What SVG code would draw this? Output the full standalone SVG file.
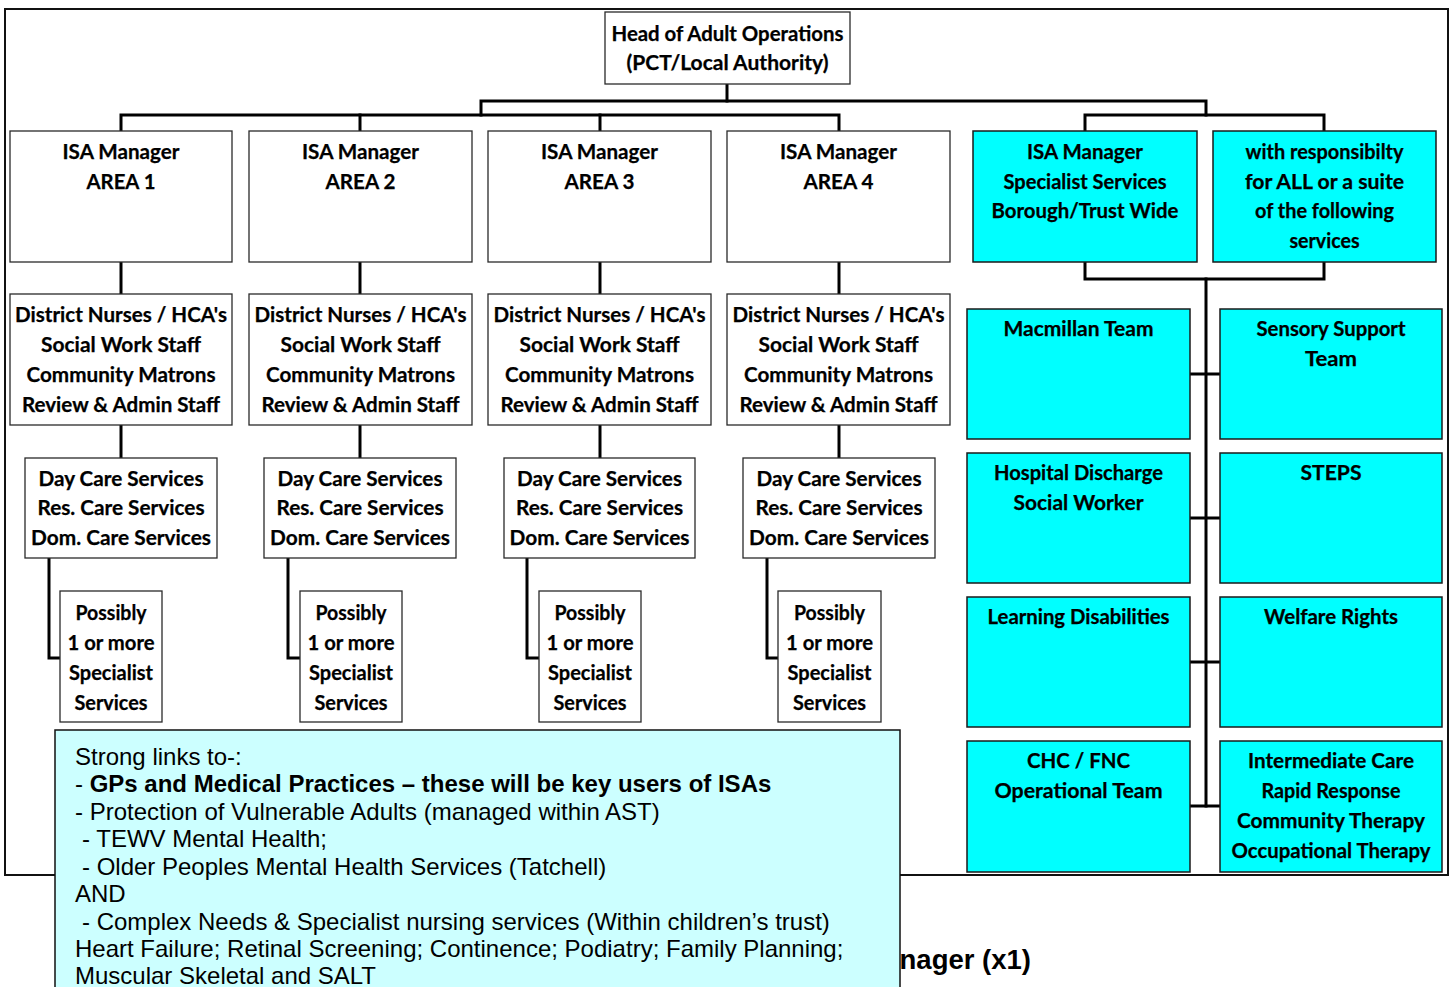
<svg xmlns="http://www.w3.org/2000/svg" width="1453" height="987" viewBox="0 0 1453 987">
  <style>
    .box { fill: #ffffff; stroke: #2a2a2a; stroke-width: 1.3; }
    .spec { fill: #00ffff; stroke: #1a1a1a; stroke-width: 1.5; }
    .lbl { font-family: Lato, "Open Sans", "DejaVu Sans", sans-serif; font-weight: bold; font-size: 20px; fill: #000; text-anchor: middle; stroke: #000; stroke-width: 0.25; }
    .conn { fill: none; stroke: #000; stroke-width: 3; stroke-linejoin: miter; stroke-linecap: square; }
    .frame { fill: none; stroke: #111; stroke-width: 2; }
    .note { fill: #ccffff; stroke: #111; stroke-width: 1.5; }
    .nt { font-family: "Liberation Sans", Arial, sans-serif; font-size: 24px; fill: #000; }
    .ntb { font-weight: bold; }
    .hdr { font-family: "Liberation Sans", Arial, sans-serif; font-size: 27.5px; font-weight: bold; fill: #000; }
  </style>

  <rect width="1453" height="987" fill="#ffffff"/>

  <!-- outer page frame -->
  <rect class="frame" x="5" y="9" width="1443" height="866"/>

  <!-- connectors -->
  <g id="connectors">
    <path class="conn" d="M727,84 V101"/>
    <path class="conn" d="M481,115 V101 H1206 V115"/>
    <path class="conn" d="M121,131 V115 H839 V131"/>
    <path class="conn" d="M360,115 V131"/>
    <path class="conn" d="M600,115 V131"/>
    <path class="conn" d="M1085,131 V115 H1324 V131"/>
    <path class="conn" d="M1085,262 V279 H1324 V262"/>
    <path class="conn" d="M1206,279 V806"/>
    <path class="conn" d="M1190,374 H1220"/>
    <path class="conn" d="M1190,518 H1220"/>
    <path class="conn" d="M1190,662 H1220"/>
    <path class="conn" d="M1190,806 H1220"/>
    <!-- area columns: manager -> staff -> services -> specialist -->
    <path class="conn" d="M121,262 V294"/>
    <path class="conn" d="M360,262 V294"/>
    <path class="conn" d="M600,262 V294"/>
    <path class="conn" d="M839,262 V294"/>
    <path class="conn" d="M121,425 V458"/>
    <path class="conn" d="M360,425 V458"/>
    <path class="conn" d="M600,425 V458"/>
    <path class="conn" d="M839,425 V458"/>
    <path class="conn" d="M49,558 V658 H60"/>
    <path class="conn" d="M288,558 V658 H300"/>
    <path class="conn" d="M527,558 V658 H539"/>
    <path class="conn" d="M767,558 V658 H778"/>
  </g>

  <!-- head -->
  <g id="head">
    <rect class="box" x="605" y="12" width="245" height="72"/>
    <text class="lbl" x="727.5" y="41" textLength="232" lengthAdjust="spacingAndGlyphs">Head of Adult Operations</text>
    <text class="lbl" x="727.5" y="70" textLength="202" lengthAdjust="spacingAndGlyphs">(PCT/Local Authority)</text>
  </g>

  <!-- area managers -->
  <g id="isa-area1">
    <rect class="box" x="10" y="131" width="222" height="131"/>
    <text class="lbl" x="121" y="159" textLength="117" lengthAdjust="spacingAndGlyphs">ISA Manager</text>
    <text class="lbl" x="121" y="189" textLength="69" lengthAdjust="spacingAndGlyphs">AREA 1</text>
  </g>
  <g id="isa-area2">
    <rect class="box" x="249" y="131" width="223" height="131"/>
    <text class="lbl" x="360.5" y="159" textLength="117" lengthAdjust="spacingAndGlyphs">ISA Manager</text>
    <text class="lbl" x="360.5" y="189" textLength="70" lengthAdjust="spacingAndGlyphs">AREA 2</text>
  </g>
  <g id="isa-area3">
    <rect class="box" x="488" y="131" width="223" height="131"/>
    <text class="lbl" x="599.5" y="159" textLength="117" lengthAdjust="spacingAndGlyphs">ISA Manager</text>
    <text class="lbl" x="599.5" y="189" textLength="70" lengthAdjust="spacingAndGlyphs">AREA 3</text>
  </g>
  <g id="isa-area4">
    <rect class="box" x="727" y="131" width="223" height="131"/>
    <text class="lbl" x="838.5" y="159" textLength="117" lengthAdjust="spacingAndGlyphs">ISA Manager</text>
    <text class="lbl" x="838.5" y="189" textLength="70" lengthAdjust="spacingAndGlyphs">AREA 4</text>
  </g>

  <!-- specialist manager -->
  <g id="isa-specialist">
    <rect class="spec" x="973" y="131" width="224" height="131"/>
    <text class="lbl" x="1085" y="159" textLength="116" lengthAdjust="spacingAndGlyphs">ISA Manager</text>
    <text class="lbl" x="1085" y="189" textLength="163" lengthAdjust="spacingAndGlyphs">Specialist Services</text>
    <text class="lbl" x="1085" y="218" textLength="187" lengthAdjust="spacingAndGlyphs">Borough/Trust Wide</text>
  </g>
  <g id="responsibility">
    <rect class="spec" x="1213" y="131" width="223" height="131"/>
    <text class="lbl" x="1324.5" y="159" textLength="158" lengthAdjust="spacingAndGlyphs">with responsibilty</text>
    <text class="lbl" x="1324.5" y="189" textLength="159" lengthAdjust="spacingAndGlyphs">for ALL or a suite</text>
    <text class="lbl" x="1324.5" y="218" textLength="139" lengthAdjust="spacingAndGlyphs">of the following</text>
    <text class="lbl" x="1324.5" y="248" textLength="70" lengthAdjust="spacingAndGlyphs">services</text>
  </g>

  <!-- area staff -->
  <g id="staff-area1">
    <rect class="box" x="10" y="294" width="222" height="131"/>
    <text class="lbl" x="121" y="322" textLength="212" lengthAdjust="spacingAndGlyphs">District Nurses / HCA's</text>
    <text class="lbl" x="121" y="352" textLength="160" lengthAdjust="spacingAndGlyphs">Social Work Staff</text>
    <text class="lbl" x="121" y="382" textLength="189" lengthAdjust="spacingAndGlyphs">Community Matrons</text>
    <text class="lbl" x="121" y="412" textLength="198" lengthAdjust="spacingAndGlyphs">Review &amp; Admin Staff</text>
  </g>
  <g id="staff-area2">
    <rect class="box" x="249" y="294" width="223" height="131"/>
    <text class="lbl" x="360.5" y="322" textLength="212" lengthAdjust="spacingAndGlyphs">District Nurses / HCA's</text>
    <text class="lbl" x="360.5" y="352" textLength="160" lengthAdjust="spacingAndGlyphs">Social Work Staff</text>
    <text class="lbl" x="360.5" y="382" textLength="189" lengthAdjust="spacingAndGlyphs">Community Matrons</text>
    <text class="lbl" x="360.5" y="412" textLength="198" lengthAdjust="spacingAndGlyphs">Review &amp; Admin Staff</text>
  </g>
  <g id="staff-area3">
    <rect class="box" x="488" y="294" width="223" height="131"/>
    <text class="lbl" x="599.5" y="322" textLength="212" lengthAdjust="spacingAndGlyphs">District Nurses / HCA's</text>
    <text class="lbl" x="599.5" y="352" textLength="160" lengthAdjust="spacingAndGlyphs">Social Work Staff</text>
    <text class="lbl" x="599.5" y="382" textLength="189" lengthAdjust="spacingAndGlyphs">Community Matrons</text>
    <text class="lbl" x="599.5" y="412" textLength="198" lengthAdjust="spacingAndGlyphs">Review &amp; Admin Staff</text>
  </g>
  <g id="staff-area4">
    <rect class="box" x="727" y="294" width="223" height="131"/>
    <text class="lbl" x="838.5" y="322" textLength="212" lengthAdjust="spacingAndGlyphs">District Nurses / HCA's</text>
    <text class="lbl" x="838.5" y="352" textLength="160" lengthAdjust="spacingAndGlyphs">Social Work Staff</text>
    <text class="lbl" x="838.5" y="382" textLength="189" lengthAdjust="spacingAndGlyphs">Community Matrons</text>
    <text class="lbl" x="838.5" y="412" textLength="198" lengthAdjust="spacingAndGlyphs">Review &amp; Admin Staff</text>
  </g>

  <!-- care services -->
  <g id="care-area1">
    <rect class="box" x="25" y="458" width="192" height="100"/>
    <text class="lbl" x="121" y="486" textLength="165" lengthAdjust="spacingAndGlyphs">Day Care Services</text>
    <text class="lbl" x="121" y="515" textLength="167" lengthAdjust="spacingAndGlyphs">Res. Care Services</text>
    <text class="lbl" x="121" y="545" textLength="180" lengthAdjust="spacingAndGlyphs">Dom. Care Services</text>
  </g>
  <g id="care-area2">
    <rect class="box" x="264" y="458" width="192" height="100"/>
    <text class="lbl" x="360" y="486" textLength="165" lengthAdjust="spacingAndGlyphs">Day Care Services</text>
    <text class="lbl" x="360" y="515" textLength="167" lengthAdjust="spacingAndGlyphs">Res. Care Services</text>
    <text class="lbl" x="360" y="545" textLength="180" lengthAdjust="spacingAndGlyphs">Dom. Care Services</text>
  </g>
  <g id="care-area3">
    <rect class="box" x="504" y="458" width="191" height="100"/>
    <text class="lbl" x="599.5" y="486" textLength="165" lengthAdjust="spacingAndGlyphs">Day Care Services</text>
    <text class="lbl" x="599.5" y="515" textLength="167" lengthAdjust="spacingAndGlyphs">Res. Care Services</text>
    <text class="lbl" x="599.5" y="545" textLength="180" lengthAdjust="spacingAndGlyphs">Dom. Care Services</text>
  </g>
  <g id="care-area4">
    <rect class="box" x="743" y="458" width="192" height="100"/>
    <text class="lbl" x="839" y="486" textLength="165" lengthAdjust="spacingAndGlyphs">Day Care Services</text>
    <text class="lbl" x="839" y="515" textLength="167" lengthAdjust="spacingAndGlyphs">Res. Care Services</text>
    <text class="lbl" x="839" y="545" textLength="180" lengthAdjust="spacingAndGlyphs">Dom. Care Services</text>
  </g>

  <!-- possible specialist services per area -->
  <g id="possibly-area1">
    <rect class="box" x="60" y="591" width="102" height="131"/>
    <text class="lbl" x="111" y="620" textLength="71" lengthAdjust="spacingAndGlyphs">Possibly</text>
    <text class="lbl" x="111" y="650" textLength="87" lengthAdjust="spacingAndGlyphs">1 or more</text>
    <text class="lbl" x="111" y="680" textLength="84" lengthAdjust="spacingAndGlyphs">Specialist</text>
    <text class="lbl" x="111" y="710" textLength="73" lengthAdjust="spacingAndGlyphs">Services</text>
  </g>
  <g id="possibly-area2">
    <rect class="box" x="300" y="591" width="102" height="131"/>
    <text class="lbl" x="351" y="620" textLength="71" lengthAdjust="spacingAndGlyphs">Possibly</text>
    <text class="lbl" x="351" y="650" textLength="87" lengthAdjust="spacingAndGlyphs">1 or more</text>
    <text class="lbl" x="351" y="680" textLength="84" lengthAdjust="spacingAndGlyphs">Specialist</text>
    <text class="lbl" x="351" y="710" textLength="73" lengthAdjust="spacingAndGlyphs">Services</text>
  </g>
  <g id="possibly-area3">
    <rect class="box" x="539" y="591" width="102" height="131"/>
    <text class="lbl" x="590" y="620" textLength="71" lengthAdjust="spacingAndGlyphs">Possibly</text>
    <text class="lbl" x="590" y="650" textLength="87" lengthAdjust="spacingAndGlyphs">1 or more</text>
    <text class="lbl" x="590" y="680" textLength="84" lengthAdjust="spacingAndGlyphs">Specialist</text>
    <text class="lbl" x="590" y="710" textLength="73" lengthAdjust="spacingAndGlyphs">Services</text>
  </g>
  <g id="possibly-area4">
    <rect class="box" x="778" y="591" width="103" height="131"/>
    <text class="lbl" x="829.5" y="620" textLength="71" lengthAdjust="spacingAndGlyphs">Possibly</text>
    <text class="lbl" x="829.5" y="650" textLength="87" lengthAdjust="spacingAndGlyphs">1 or more</text>
    <text class="lbl" x="829.5" y="680" textLength="84" lengthAdjust="spacingAndGlyphs">Specialist</text>
    <text class="lbl" x="829.5" y="710" textLength="73" lengthAdjust="spacingAndGlyphs">Services</text>
  </g>

  <!-- borough-wide specialist teams -->
  <g id="macmillan">
    <rect class="spec" x="967" y="309" width="223" height="130"/>
    <text class="lbl" x="1078.5" y="336" textLength="150" lengthAdjust="spacingAndGlyphs">Macmillan Team</text>
  </g>
  <g id="sensory">
    <rect class="spec" x="1220" y="309" width="222" height="130"/>
    <text class="lbl" x="1331" y="336" textLength="149" lengthAdjust="spacingAndGlyphs">Sensory Support</text>
    <text class="lbl" x="1331" y="366" textLength="52" lengthAdjust="spacingAndGlyphs">Team</text>
  </g>
  <g id="hospital-discharge">
    <rect class="spec" x="967" y="453" width="223" height="130"/>
    <text class="lbl" x="1078.5" y="480" textLength="169" lengthAdjust="spacingAndGlyphs">Hospital Discharge</text>
    <text class="lbl" x="1078.5" y="510" textLength="130" lengthAdjust="spacingAndGlyphs">Social Worker</text>
  </g>
  <g id="steps">
    <rect class="spec" x="1220" y="453" width="222" height="130"/>
    <text class="lbl" x="1331" y="480" textLength="61" lengthAdjust="spacingAndGlyphs">STEPS</text>
  </g>
  <g id="learning-disabilities">
    <rect class="spec" x="967" y="597" width="223" height="130"/>
    <text class="lbl" x="1078.5" y="624" textLength="182" lengthAdjust="spacingAndGlyphs">Learning Disabilities</text>
  </g>
  <g id="welfare-rights">
    <rect class="spec" x="1220" y="597" width="222" height="130"/>
    <text class="lbl" x="1331" y="624" textLength="134" lengthAdjust="spacingAndGlyphs">Welfare Rights</text>
  </g>
  <g id="chc-fnc">
    <rect class="spec" x="967" y="741" width="223" height="131"/>
    <text class="lbl" x="1078.5" y="768" textLength="103" lengthAdjust="spacingAndGlyphs">CHC / FNC</text>
    <text class="lbl" x="1078.5" y="798" textLength="168" lengthAdjust="spacingAndGlyphs">Operational Team</text>
  </g>
  <g id="intermediate-care">
    <rect class="spec" x="1220" y="741" width="222" height="131"/>
    <text class="lbl" x="1331" y="768" textLength="166" lengthAdjust="spacingAndGlyphs">Intermediate Care</text>
    <text class="lbl" x="1331" y="798" textLength="139" lengthAdjust="spacingAndGlyphs">Rapid Response</text>
    <text class="lbl" x="1331" y="828" textLength="188" lengthAdjust="spacingAndGlyphs">Community Therapy</text>
    <text class="lbl" x="1331" y="858" textLength="199" lengthAdjust="spacingAndGlyphs">Occupational Therapy</text>
  </g>

  <!-- heading below the frame, partly under the links note -->
  <text class="hdr" x="1031" y="969" text-anchor="end">nager (x1)</text>

  <!-- strong links note -->
  <g id="links-note">
    <rect class="note" x="55" y="730" width="845" height="270"/>
    <text class="nt" x="75" y="765">Strong links to-:</text>
    <text class="nt" x="75" y="792">- <tspan class="ntb">GPs and Medical Practices – these will be key users of ISAs</tspan></text>
    <text class="nt" x="75" y="820">- Protection of Vulnerable Adults (managed within AST)</text>
    <text class="nt" x="82" y="847">- TEWV Mental Health;</text>
    <text class="nt" x="82" y="875">- Older Peoples Mental Health Services (Tatchell)</text>
    <text class="nt" x="75" y="902">AND</text>
    <text class="nt" x="82" y="930">- Complex Needs &amp; Specialist nursing services (Within children’s trust)</text>
    <text class="nt" x="75" y="957">Heart Failure; Retinal Screening; Continence; Podiatry; Family Planning;</text>
    <text class="nt" x="75" y="984">Muscular Skeletal and SALT</text>
  </g>
</svg>
